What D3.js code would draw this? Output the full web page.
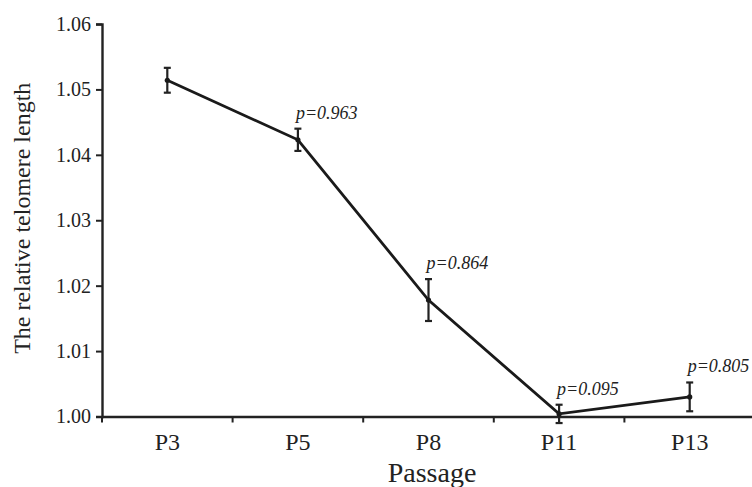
<!DOCTYPE html>
<html>
<head>
<meta charset="utf-8">
<script src="https://cdn.jsdelivr.net/npm/d3@7"></script>
<style>
  body { margin: 0; background: #fff; }
  svg text { font-family: "Times New Roman", Times, Tinos, "Liberation Serif", serif; fill: #222; }
</style>
</head>
<body>
<div id="container"></div>
<script>
/* CONSTANTS AND GLOBALS */
const width = 752,
      height = 487,
      margin = {top: 24, bottom: 70.5, left: 102, right: -3};

// data
const passages = ["P3", "P5", "P8", "P11", "P13"];
const telomere = [1.0514, 1.0423, 1.0178, 1.0004, 1.0030];
const errors   = [0.0019, 0.0017, 0.0032, 0.0014, 0.0022];
const pLabels  = [null, "p=0.963", "p=0.864", "p=0.095", "p=0.805"];
const yTicks   = [1.00, 1.01, 1.02, 1.03, 1.04, 1.05, 1.06];

const data = passages.map((p, i) => ({
  passage: p, value: telomere[i], err: errors[i], label: pLabels[i]
}));

const svg = d3.select("#container").append("svg")
  .attr("width", width)
  .attr("height", height);

// + SCALES
const xScale = d3.scaleBand()
  .domain(passages)
  .range([margin.left, width - margin.right]);

const yScale = d3.scaleLinear()
  .domain([1.00, 1.06])
  .range([height - margin.bottom, margin.top]);

// + AXES
const yAxis = d3.axisLeft(yScale)
  .tickValues(yTicks)
  .tickFormat(d3.format(".2f"))
  .tickSize(6)
  .tickPadding(5);

const yAxisGroup = svg.append("g")
  .attr("transform", `translate(${margin.left},0)`)
  .call(yAxis)
  .attr("font-family", null);
yAxisGroup.select(".domain").attr("stroke", "#222").attr("stroke-width", 2.4);
yAxisGroup.selectAll(".tick line").attr("stroke", "#222").attr("stroke-width", 2);
yAxisGroup.selectAll(".tick text")
  .attr("font-size", 20)
  .attr("fill", "#222");

const xAxis = d3.axisBottom(xScale)
  .tickSize(0)
  .tickPadding(16);

const xAxisGroup = svg.append("g")
  .attr("transform", `translate(0,${yScale(1.00)})`)
  .call(xAxis)
  .attr("font-family", null);
xAxisGroup.select(".domain").attr("stroke", "#222").attr("stroke-width", 2.4);
xAxisGroup.selectAll(".tick text")
  .attr("font-size", 24)
  .attr("fill", "#222");

// tick marks sit on the band boundaries
xAxisGroup.selectAll("line.bound")
  .data(passages)
  .join("line")
  .attr("class", "bound")
  .attr("x1", d => xScale(d))
  .attr("x2", d => xScale(d))
  .attr("y1", 0)
  .attr("y2", 6)
  .attr("stroke", "#222")
  .attr("stroke-width", 2);

// axis titles
svg.append("text")
  .attr("transform", `translate(30,${yScale(1.03) - 2}) rotate(-90)`)
  .attr("text-anchor", "middle")
  .attr("font-size", 24)
  .text("The relative telomere length");

svg.append("text")
  .attr("x", 432)
  .attr("y", 482)
  .attr("text-anchor", "middle")
  .attr("font-size", 28)
  .text("Passage");

// + LINE
const cx = d => xScale(d.passage) + xScale.bandwidth() / 2;

const line = d3.line()
  .x(cx)
  .y(d => yScale(d.value));

svg.append("path")
  .datum(data)
  .attr("d", line)
  .attr("fill", "none")
  .attr("stroke", "#1a1a1a")
  .attr("stroke-width", 2.8);

// + ERROR BARS
const eb = svg.selectAll("g.err")
  .data(data)
  .join("g")
  .attr("class", "err")
  .attr("stroke", "#222")
  .attr("stroke-width", 2.2);

eb.append("line")
  .attr("x1", cx).attr("x2", cx)
  .attr("y1", d => yScale(d.value + d.err))
  .attr("y2", d => yScale(d.value - d.err));
eb.append("line")
  .attr("x1", d => cx(d) - 3.5).attr("x2", d => cx(d) + 3.5)
  .attr("y1", d => yScale(d.value + d.err))
  .attr("y2", d => yScale(d.value + d.err));
eb.append("line")
  .attr("x1", d => cx(d) - 3.5).attr("x2", d => cx(d) + 3.5)
  .attr("y1", d => yScale(d.value - d.err))
  .attr("y2", d => yScale(d.value - d.err));

svg.selectAll("circle.dot")
  .data(data)
  .join("circle")
  .attr("class", "dot")
  .attr("cx", cx)
  .attr("cy", d => yScale(d.value))
  .attr("r", 2.6)
  .attr("fill", "#1a1a1a");

// + p-value labels
svg.selectAll("text.pval")
  .data(data.filter(d => d.label))
  .join("text")
  .attr("class", "pval")
  .attr("x", d => cx(d) - 2)
  .attr("y", d => yScale(d.value + d.err) - 10)
  .attr("font-size", 18)
  .attr("font-style", "italic")
  .text(d => d.label);
</script>
</body>
</html>
